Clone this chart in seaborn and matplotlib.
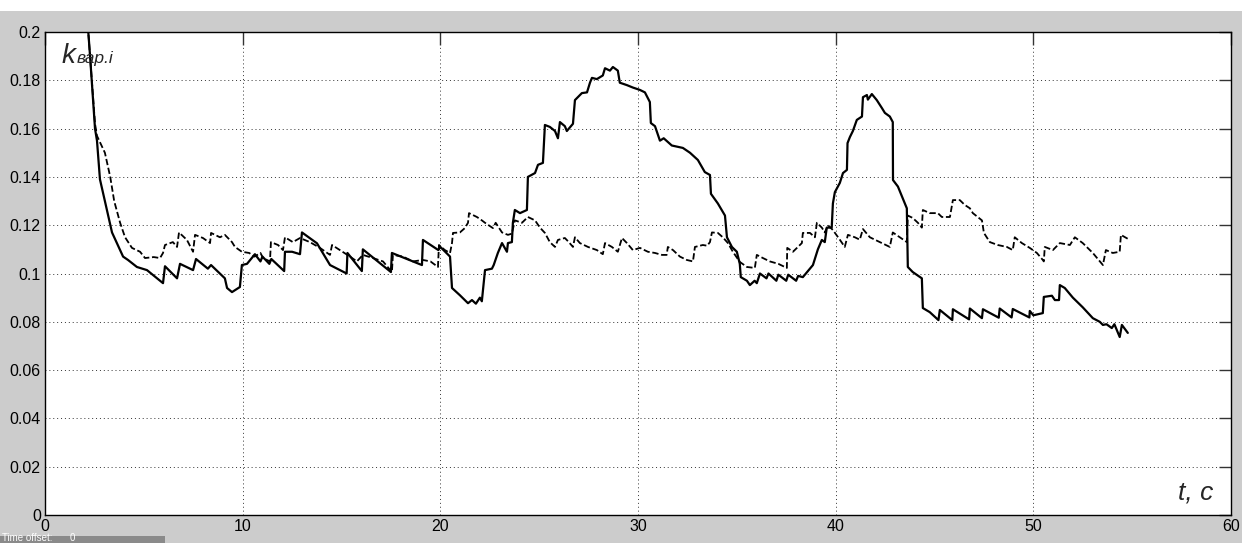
"""Scope trace of k_var.i over time: two realisations (solid and dashed)."""

import matplotlib

matplotlib.use("Agg")

import matplotlib.pyplot as plt
import pandas as pd
import seaborn as sns
from matplotlib.patches import Rectangle

# solid trace (t, value)
solid_t = [
    2.10, 2.28, 2.53, 2.63, 2.78, 3.03, 3.39, 3.95, 4.20, 4.65, 5.16, 5.97, 6.07, 6.68,
    6.83, 7.49, 7.64, 8.24, 8.40, 9.10, 9.21, 9.46, 9.86, 9.96, 10.22, 10.62, 10.90,
    11.00, 11.35, 11.45, 12.10, 12.14, 12.50, 12.90, 13.00, 13.76, 14.42, 15.26, 15.30,
    16.03, 16.08, 17.50, 17.55, 19.07, 19.12, 19.90, 20.00, 20.49, 20.59, 20.99, 21.40,
    21.60, 21.80, 22.00, 22.10, 22.21, 22.26, 22.61, 22.70, 22.91, 23.12, 23.37, 23.42,
    23.62, 23.67, 23.77, 24.03, 24.38, 24.43, 24.79, 24.94, 25.19, 25.29, 25.54, 25.80,
    25.95, 26.05, 26.30, 26.40, 26.71, 26.81, 27.16, 27.42, 27.57, 27.67, 27.92, 28.22,
    28.33, 28.58, 28.73, 28.98, 29.08, 29.44, 29.74, 30.10, 30.35, 30.60, 30.65, 30.86,
    31.11, 31.30, 31.71, 32.27, 32.63, 33.03, 33.38, 33.64, 33.69, 34.04, 34.40, 34.50,
    34.75, 35.00, 35.15, 35.20, 35.51, 35.66, 35.90, 36.01, 36.17, 36.50, 36.60, 37.00,
    37.10, 37.50, 37.60, 38.00, 38.10, 38.34, 38.85, 39.10, 39.30, 39.45, 39.55, 39.80,
    39.86, 39.96, 40.21, 40.37, 40.57, 40.60, 40.72, 40.87, 41.07, 41.33, 41.38, 41.58,
    41.63, 41.83, 42.08, 42.34, 42.49, 42.74, 42.89, 42.90, 43.15, 43.40, 43.60, 43.65,
    43.90, 44.36, 44.41, 44.76, 45.20, 45.27, 45.90, 45.93, 46.75, 46.79, 47.40, 47.45,
    48.25, 48.30, 48.90, 48.96, 49.80, 49.82, 50.00, 50.48, 50.53, 50.94, 51.09, 51.30,
    51.34, 51.59, 52.00, 52.50, 53.01, 53.36, 53.52, 53.70, 53.97, 54.10, 54.37, 54.48,
    54.78,
]
solid_v = [
    0.210, 0.190, 0.160, 0.155, 0.139, 0.130, 0.117, 0.107, 0.1056, 0.1027, 0.1014,
    0.096, 0.103, 0.098, 0.104, 0.1014, 0.106, 0.102, 0.1035, 0.098, 0.094, 0.0923,
    0.0944, 0.1035, 0.104, 0.108, 0.105, 0.107, 0.104, 0.106, 0.101, 0.109, 0.109,
    0.108, 0.117, 0.1125, 0.1035, 0.100, 0.1085, 0.101, 0.110, 0.1006, 0.1085, 0.1035,
    0.1139, 0.1097, 0.111, 0.107, 0.094, 0.091, 0.0877, 0.089, 0.0875, 0.090, 0.0885,
    0.0973, 0.1014, 0.102, 0.1035, 0.1085, 0.1126, 0.109, 0.1126, 0.113, 0.121, 0.1263,
    0.125, 0.1263, 0.140, 0.1416, 0.145, 0.1458, 0.1615, 0.1607, 0.159, 0.156, 0.1627,
    0.161, 0.159, 0.162, 0.1718, 0.1747, 0.175, 0.179, 0.181, 0.1805, 0.182, 0.185,
    0.184, 0.1855, 0.184, 0.179, 0.178, 0.177, 0.176, 0.175, 0.171, 0.1623, 0.161,
    0.155, 0.156, 0.153, 0.152, 0.150, 0.147, 0.142, 0.1408, 0.133, 0.129, 0.124,
    0.115, 0.111, 0.109, 0.104, 0.0985, 0.097, 0.0952, 0.097, 0.096, 0.100, 0.098,
    0.100, 0.097, 0.0995, 0.097, 0.0995, 0.097, 0.099, 0.0985, 0.1035, 0.110, 0.1139,
    0.113, 0.119, 0.119, 0.129, 0.1337, 0.1375, 0.1416, 0.1429, 0.154, 0.1565, 0.159,
    0.1636, 0.165, 0.173, 0.1739, 0.172, 0.1743, 0.1718, 0.1685, 0.1665, 0.165, 0.1627,
    0.1387, 0.136, 0.131, 0.127, 0.1027, 0.1006, 0.098, 0.0857, 0.084, 0.0807, 0.0849,
    0.0807, 0.0852, 0.081, 0.0855, 0.0815, 0.0852, 0.0817, 0.0855, 0.0818, 0.0853,
    0.0818, 0.0845, 0.0827, 0.0836, 0.0903, 0.0908, 0.089, 0.089, 0.0952, 0.094, 0.090,
    0.086, 0.0815, 0.080, 0.0787, 0.079, 0.0774, 0.079, 0.0737, 0.0787, 0.0754,
]

# dashed trace
dashed_t = [
    2.10, 2.28, 2.53, 2.63, 3.03, 3.30, 3.50, 3.80, 4.05, 4.40, 4.81, 5.06, 5.50, 5.82,
    5.97, 6.07, 6.47, 6.68, 6.78, 7.18, 7.49, 7.59, 7.99, 8.35, 8.40, 8.85, 9.10, 9.46,
    9.61, 9.96, 10.33, 10.60, 10.90, 11.03, 11.38, 11.43, 11.79, 12.04, 12.14, 12.54,
    12.90, 13.40, 13.91, 14.42, 14.52, 14.92, 15.43, 15.78, 16.08, 16.59, 17.10, 17.55,
    17.60, 18.11, 18.61, 19.12, 19.50, 19.88, 19.93, 20.23, 20.49, 20.59, 20.64, 20.99,
    21.24, 21.40, 21.45, 21.85, 22.10, 22.26, 22.66, 22.80, 23.12, 23.42, 23.62, 23.77,
    24.13, 24.43, 24.79, 25.04, 25.29, 25.54, 25.80, 25.95, 26.30, 26.50, 26.71, 26.81,
    27.06, 27.47, 27.92, 28.22, 28.33, 28.68, 28.98, 29.19, 29.44, 29.74, 30.10, 30.50,
    30.86, 31.21, 31.45, 31.51, 31.77, 32.12, 32.47, 32.78, 32.88, 33.28, 33.50, 33.64,
    33.74, 34.04, 34.29, 34.55, 34.80, 35.15, 35.51, 35.91, 36.01, 36.32, 36.67, 37.10,
    37.53, 37.55, 37.84, 38.09, 38.29, 38.34, 38.70, 38.95, 39.05, 39.30, 39.45, 39.61,
    39.86, 40.21, 40.46, 40.62, 40.97, 41.22, 41.38, 41.73, 42.24, 42.74, 42.89, 43.25,
    43.60, 43.65, 43.90, 44.16, 44.36, 44.41, 44.76, 45.17, 45.37, 45.78, 45.93, 46.28,
    46.53, 46.79, 46.94, 47.40, 47.50, 47.80, 48.20, 48.66, 48.96, 49.06, 49.42, 49.82,
    50.18, 50.48, 50.53, 50.58, 50.99, 51.34, 51.85, 52.10, 52.50, 53.01, 53.52, 53.67,
    54.02, 54.37, 54.43, 54.88,
]
dashed_v = [
    0.210, 0.190, 0.162, 0.157, 0.150, 0.140, 0.130, 0.121, 0.115, 0.1106, 0.109,
    0.1064, 0.1068, 0.1064, 0.1085, 0.1118, 0.113, 0.111, 0.117, 0.1139, 0.109, 0.116,
    0.1147, 0.1126, 0.1168, 0.115, 0.116, 0.113, 0.111, 0.109, 0.1085, 0.107, 0.1085,
    0.1064, 0.105, 0.113, 0.1118, 0.1097, 0.115, 0.113, 0.1147, 0.113, 0.1106, 0.1077,
    0.1118, 0.1097, 0.107, 0.105, 0.1077, 0.1064, 0.105, 0.1006, 0.1077, 0.107, 0.105,
    0.1056, 0.105, 0.1027, 0.1118, 0.1097, 0.1085, 0.1126, 0.1168, 0.117, 0.1188, 0.121,
    0.125, 0.1234, 0.122, 0.121, 0.1188, 0.121, 0.117, 0.116, 0.1165, 0.122, 0.121,
    0.1234, 0.122, 0.119, 0.1168, 0.113, 0.111, 0.1139, 0.1147, 0.113, 0.111, 0.115,
    0.1126, 0.111, 0.1097, 0.108, 0.1126, 0.111, 0.109, 0.1147, 0.1126, 0.1097, 0.1106,
    0.109, 0.1085, 0.1077, 0.1077, 0.111, 0.1097, 0.107, 0.1056, 0.105, 0.111, 0.1118,
    0.1115, 0.113, 0.117, 0.1168, 0.115, 0.1126, 0.109, 0.1048, 0.1027, 0.1023, 0.1077,
    0.1064, 0.105, 0.104, 0.1023, 0.1106, 0.109, 0.111, 0.1126, 0.1168, 0.1168, 0.115,
    0.121, 0.119, 0.117, 0.120, 0.118, 0.114, 0.111, 0.116, 0.115, 0.114, 0.1184,
    0.115, 0.113, 0.111, 0.117, 0.115, 0.113, 0.124, 0.123, 0.121, 0.119, 0.1263,
    0.125, 0.125, 0.1234, 0.1234, 0.1304, 0.1304, 0.1284, 0.127, 0.125, 0.122, 0.1168,
    0.113, 0.1118, 0.111, 0.1097, 0.115, 0.1126, 0.1106, 0.1085, 0.1056, 0.105, 0.111,
    0.1097, 0.1126, 0.1118, 0.115, 0.1126, 0.1085, 0.1035, 0.1097, 0.1085, 0.109,
    0.116, 0.1139,
]

x_ticks = [0, 10, 20, 30, 40, 50, 60]
y_ticks = [0, 0.02, 0.04, 0.06, 0.08, 0.1, 0.12, 0.14, 0.16, 0.18, 0.2]
y_tick_labels = ["0", "0.02", "0.04", "0.06", "0.08", "0.1", "0.12", "0.14", "0.16", "0.18", "0.2"]

FIG_GRAY = "#cccccc"

sns.set_style("white")
plt.rcParams["font.family"] = ["Liberation Sans", "DejaVu Sans"]

fig = plt.figure(figsize=(12.42, 5.43), dpi=100, facecolor=FIG_GRAY)
# white strip on top and the "Time offset" status bar at the bottom
fig.patches.append(Rectangle((0, 1 - 11 / 543), 1, 11 / 543, transform=fig.transFigure,
                             facecolor="white", edgecolor="none", zorder=0))
fig.patches.append(Rectangle((0, 0), 165 / 1242, 7 / 543, transform=fig.transFigure,
                             facecolor="#8a8a8a", edgecolor="none", zorder=1))
fig.text(2 / 1242, 0, "Time offset:", fontsize=7, color="white", va="bottom")
fig.text(70 / 1242, 0, "0", fontsize=7, color="white", va="bottom")

ax = fig.add_axes([45 / 1242, 28 / 543, 1186 / 1242, 483 / 543])
ax.set_facecolor("white")

solid = pd.DataFrame({"t": solid_t, "v": solid_v})
dashed = pd.DataFrame({"t": dashed_t, "v": dashed_v})
sns.lineplot(data=dashed, x="t", y="v", ax=ax, color="black", linewidth=1.3,
             sort=False, estimator=None)
ax.lines[-1].set_dashes([3.5, 1.5])
sns.lineplot(data=solid, x="t", y="v", ax=ax, color="black", linewidth=1.6,
             sort=False, estimator=None)

ax.set_xlim(0, 60)
ax.set_ylim(0, 0.2)
ax.set_xticks(x_ticks)
ax.set_yticks(y_ticks)
ax.set_yticklabels(y_tick_labels)
ax.set_xlabel("")
ax.set_ylabel("")
ax.grid(True, color="#333333", linestyle=(0, (1, 3)), linewidth=0.7)
ax.tick_params(direction="in", top=True, right=True, length=9, width=1,
               labelsize=11.5, pad=3, colors="#333333", labelcolor="black")
for spine in ax.spines.values():
    spine.set_color("black")
    spine.set_linewidth(1)

ax.text(0.85, 0.187, "k", fontsize=20, style="italic", va="baseline", ha="left")
ax.text(1.6, 0.187, "вар.i", fontsize=12.5, style="italic", va="baseline", ha="left")
ax.text(59.1, 0.0066, "t, c", fontsize=19, style="italic", va="baseline", ha="right")

fig.savefig("out.png", dpi=100, facecolor=fig.get_facecolor())
